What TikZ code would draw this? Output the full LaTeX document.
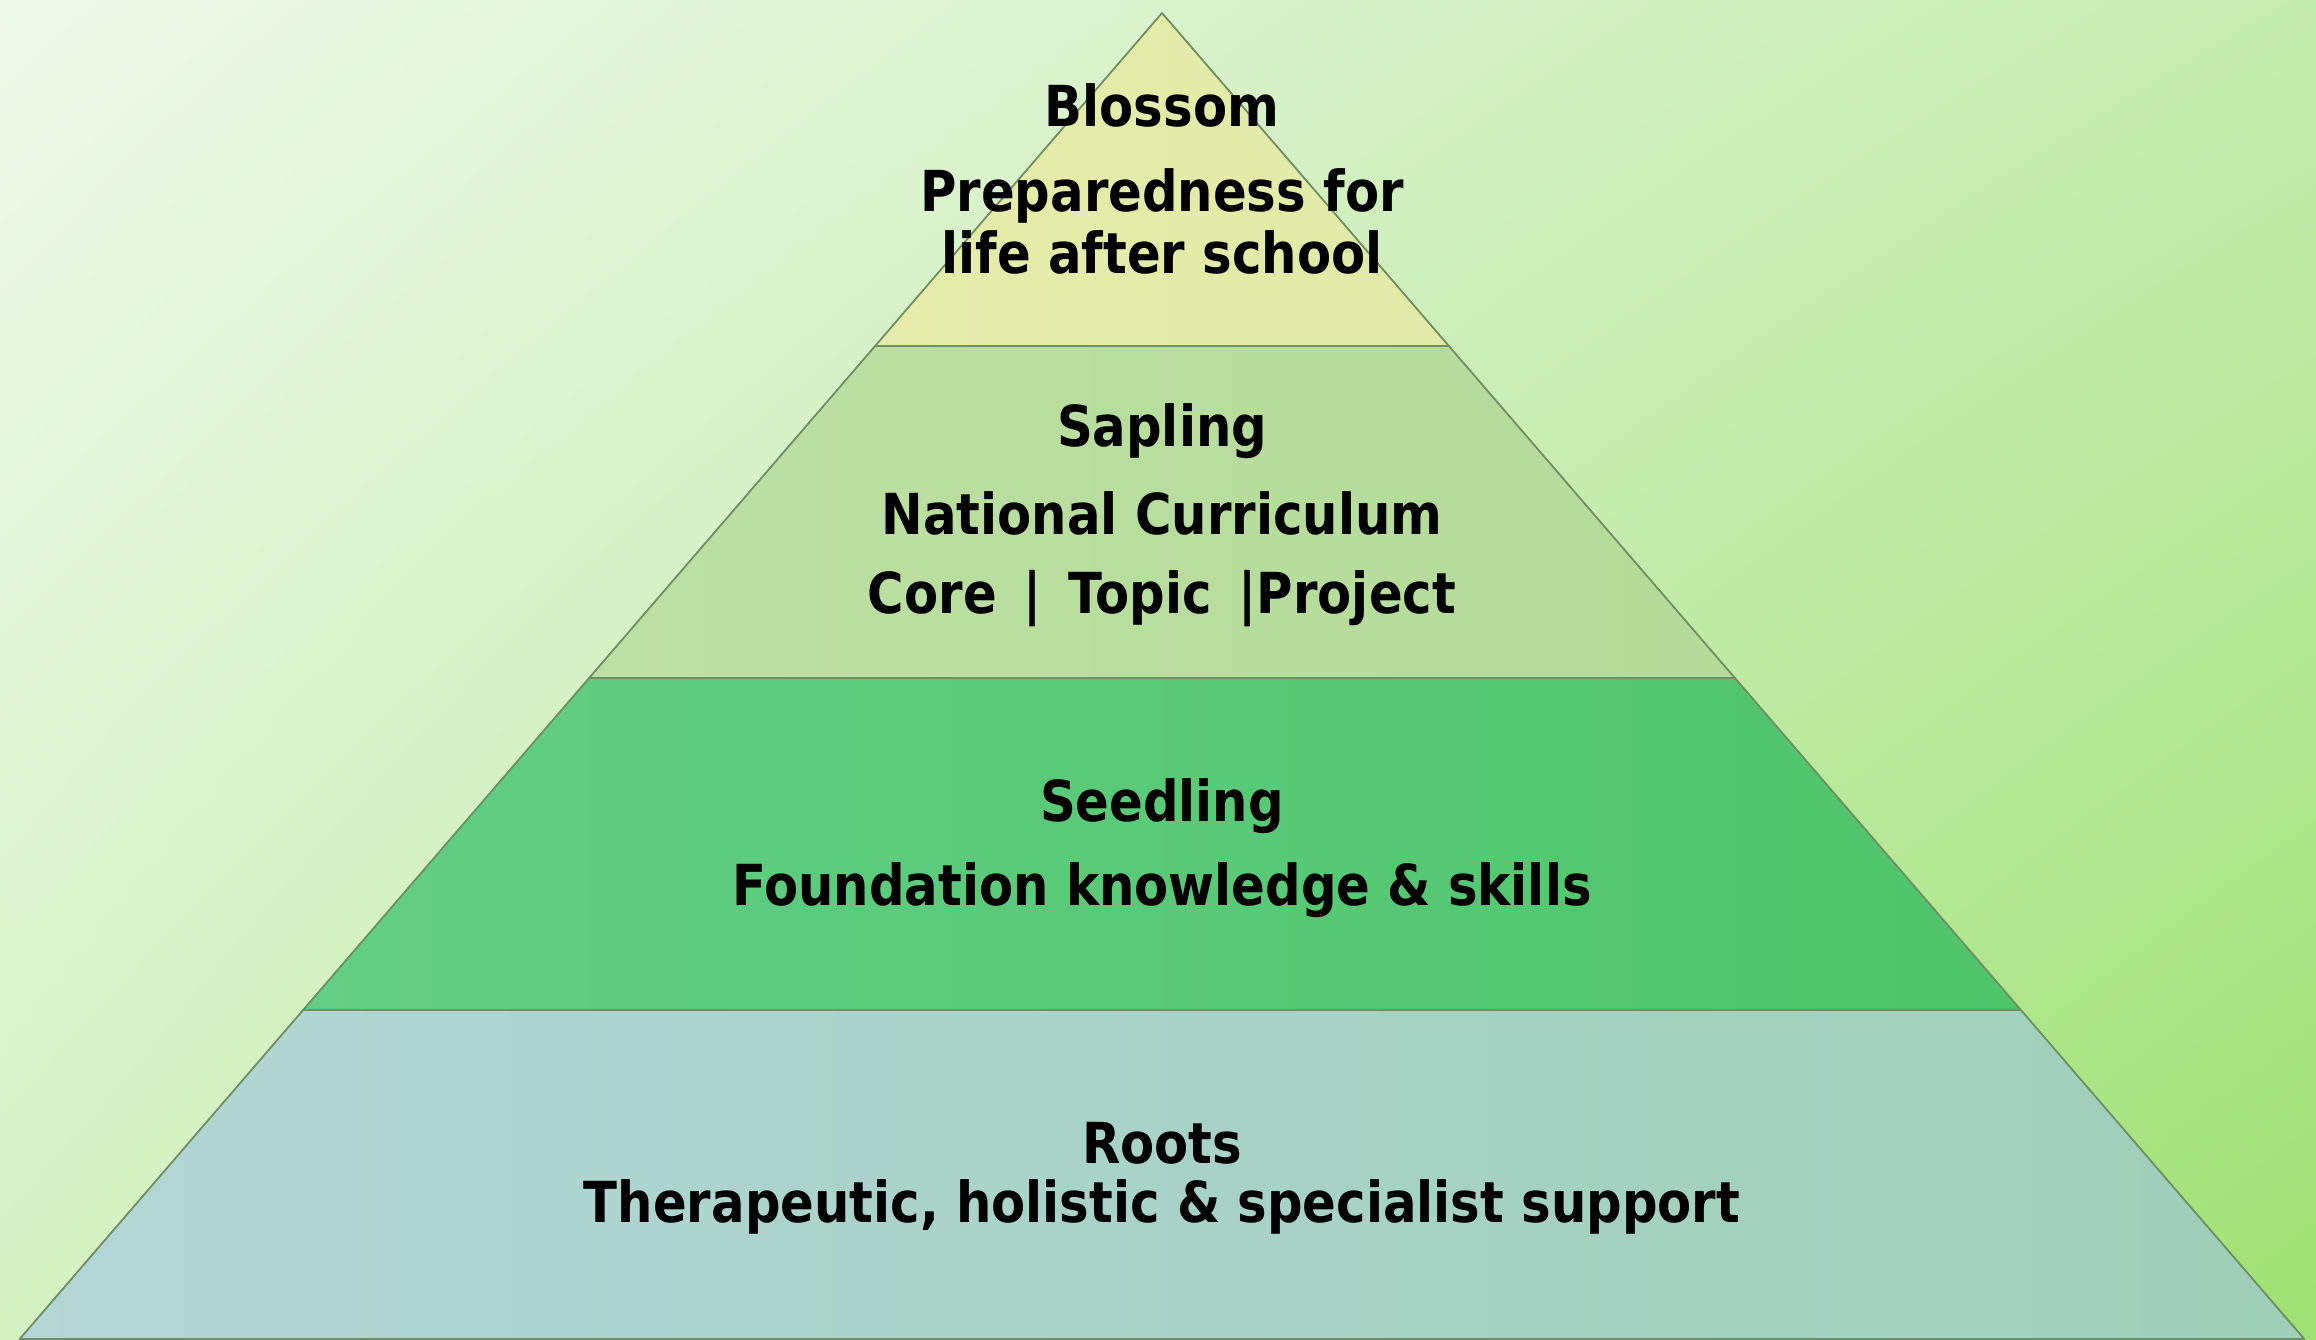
\documentclass[tikz,border=0pt]{standalone}
\usepackage{fontspec}
\usetikzlibrary{shadings}
\setmainfont{DejaVu Sans}[FakeStretch=0.88]
\definecolor{bgUL}{HTML}{EEF9EA}
\definecolor{bgUR}{HTML}{C6EDB0}
\definecolor{bgLL}{HTML}{D5F2C3}
\definecolor{bgLR}{HTML}{9EE172}
\definecolor{edge}{HTML}{6F8F62}
\definecolor{blossomL}{HTML}{E6EDAC}
\definecolor{blossomR}{HTML}{E1EAA6}
\definecolor{saplingL}{HTML}{BCE0A4}
\definecolor{saplingR}{HTML}{B4DB98}
\definecolor{seedL}{HTML}{63CE85}
\definecolor{seedR}{HTML}{4FC56A}
\definecolor{rootL}{HTML}{B3D6D6}
\definecolor{rootR}{HTML}{9ECFB8}
\tikzset{
  band/.style={draw=edge, line width=1.8pt, line join=round},
  lbl/.style={font=\bfseries\fontsize{56.5}{62}\selectfont, align=center, text=black, inner sep=0pt}
}
\begin{document}
\begin{tikzpicture}[x=1pt,y=-1pt]
\useasboundingbox (0,0) rectangle (2316,1339);
\shade[upper left=bgUL, upper right=bgUR, lower left=bgLL, lower right=bgLR] (0,0) rectangle (2316,1339);
% bands
\shade[band, left color=rootL, right color=rootR] (303.1,1010) -- (2020.9,1010) -- (2304.3,1339) -- (19.7,1339) -- cycle;
\shade[band, left color=seedL, right color=seedR] (589.1,678) -- (1734.9,678) -- (2020.9,1010) -- (303.1,1010) -- cycle;
\shade[band, left color=saplingL, right color=saplingR] (875.1,346) -- (1448.9,346) -- (1734.9,678) -- (589.1,678) -- cycle;
\shade[band, left color=blossomL, right color=blossomR] (1162,13) -- (1448.9,346) -- (875.1,346) -- cycle;
% labels
\node[lbl] (blossom) at (1162,105) {Blossom};
\node[lbl] (prep) at (1162,221) {Preparedness for\\life after school};
\node[lbl] (sapling) at (1162,431) {Sapling};
\node[lbl] (natcur) at (1162,513) {National Curriculum};
\node[lbl] (core) at (1162,599) {Core \,|\, Topic \,|Project};
\node[lbl] (seedling) at (1162,806) {Seedling};
\node[lbl] (found) at (1162,890) {Foundation knowledge \& skills};
\node[lbl, font=\bfseries\fontsize{56.5}{59}\selectfont] (roots) at (1162,1178) {Roots\\Therapeutic, holistic \& specialist support};
\end{tikzpicture}
\end{document}
